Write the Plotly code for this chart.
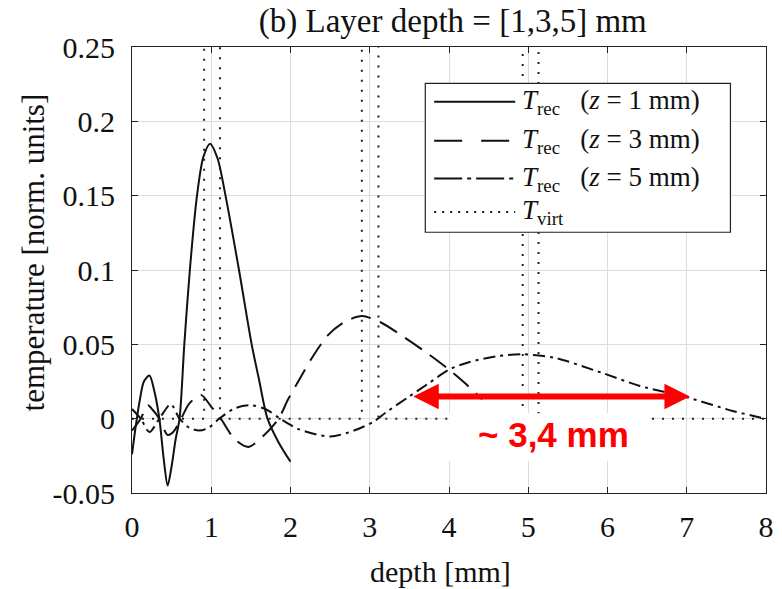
import plotly.graph_objects as go

# ---------------- data ----------------
depth_ticks = [0, 1, 2, 3, 4, 5, 6, 7, 8]
temp_ticks = [-0.05, 0, 0.05, 0.1, 0.15, 0.2, 0.25]
temp_tick_labels = ["-0.05", "0", "0.05", "0.1", "0.15", "0.2", "0.25"]

# T_rec (z = 1 mm)
rec1_x = [0, 0.05, 0.1, 0.15, 0.22, 0.28, 0.345, 0.4, 0.45, 0.5, 0.55, 0.6, 0.66, 0.73,
          0.82, 0.9, 0.985, 1.08, 1.18, 1.35, 1.51, 1.6, 1.71, 1.85, 2.0]
rec1_y = [-0.024, -0.004, 0.013, 0.025, 0.029, 0.019, 0.0, -0.027, -0.045, -0.032, -0.014,
          0.0, 0.05, 0.1, 0.15, 0.176, 0.185, 0.175, 0.15, 0.1, 0.05, 0.027, 0.0, -0.016, -0.029]

# T_rec (z = 3 mm)
rec3_x = [0, 0.11, 0.2, 0.26, 0.345, 0.45, 0.52, 0.62, 0.72, 0.87, 1.0, 1.12, 1.3, 1.47,
          1.65, 1.85, 1.97, 2.13, 2.26, 2.47, 2.68, 2.9, 3.13, 3.4, 3.7, 4.0, 4.2, 4.42]
rec3_y = [-0.008, 0.0, 0.009, 0.006, 0.0, -0.011, -0.009, 0.0, 0.01, 0.016, 0.008, 0.0,
          -0.014, -0.019, -0.012, 0.0, 0.013, 0.028, 0.04, 0.056, 0.065, 0.069, 0.065,
          0.056, 0.045, 0.033, 0.024, 0.013]

# T_rec (z = 5 mm)
rec5_x = [0, 0.11, 0.22, 0.345, 0.49, 0.6, 0.72, 0.85, 0.97, 1.1, 1.3, 1.51, 1.7, 1.87,
          2.1, 2.5, 2.8, 3.05, 3.2, 3.5, 3.75, 4.0, 4.25, 4.6, 4.92, 5.33, 5.92, 6.41,
          7.0, 7.58, 7.91, 8.0]
rec5_y = [0.0065, 0.0, -0.009, 0.0, 0.0097, 0.0, -0.006, -0.008, -0.006, 0.0, 0.007,
          0.009, 0.006, 0.0, -0.007, -0.012, -0.008, -0.002, 0.004, 0.015, 0.024, 0.033,
          0.038, 0.042, 0.0433, 0.041, 0.031, 0.022, 0.0144, 0.0052, 0.001, 0.0]

# T_virt (layer boxes, amplitude beyond the axis range)
virt_x = [0, 0.91, 0.91, 1.11, 1.11, 2.9, 2.9, 3.11, 3.11, 4.93, 4.93, 5.13, 5.13, 8]
virt_y = [0, 0, 1, 1, 0, 0, 1, 1, 0, 0, 1, 1, 0, 0]

# annotation: width of the z = 5 mm response
arrow_start_x, arrow_end_x, arrow_y = 3.53, 7.04, 0.0149
width_label = "~ 3,4 mm"

SP = "&nbsp;"
legend_labels = [
    f"<i>T</i><sub>rec</sub>{SP*3}(<i>z</i>{SP}={SP}1{SP}mm)",
    f"<i>T</i><sub>rec</sub>{SP*3}(<i>z</i>{SP}={SP}3{SP}mm)",
    f"<i>T</i><sub>rec</sub>{SP*3}(<i>z</i>{SP}={SP}5{SP}mm)",
    "<i>T</i><sub>virt</sub>",
]

# ---------------- styles ----------------
SERIF = "Liberation Serif, Times New Roman, serif"
BLACK = "#111111"
plot_dashes = ["solid", "20px,10px", "12px,5px,3px,5px", "2px,8px"]
legend_dashes = ["solid", "28px,19px", "28px,5px,4px,5px", "2px,6px"]

fig = go.Figure()
fig.add_trace(go.Scatter(x=virt_x, y=virt_y, mode="lines", name="T_virt",
                         line=dict(color="#222222", width=2, dash=plot_dashes[3]),
                         showlegend=False, hoverinfo="skip"))
for xs, ys, dash, name in [(rec5_x, rec5_y, plot_dashes[2], "z=5"),
                           (rec3_x, rec3_y, plot_dashes[1], "z=3"),
                           (rec1_x, rec1_y, plot_dashes[0], "z=1")]:
    fig.add_trace(go.Scatter(x=xs, y=ys, mode="lines", name=name,
                             line=dict(color=BLACK, width=2, dash=dash, shape="spline",
                                       smoothing=0.8),
                             showlegend=False))

shapes = []
annotations = []

# white box behind the red label
shapes.append(dict(type="rect", xref="x", yref="y", x0=4.0, x1=6.54, y0=-0.0285, y1=0.0037,
                   fillcolor="white", line=dict(width=0), layer="above"))
annotations.append(dict(x=(4.0 + 6.54) / 2 + 0.05, y=-0.0105, xref="x", yref="y",
                        text=f"<b>{width_label}</b>",
                        showarrow=False, font=dict(family="Liberation Sans, Arial, sans-serif",
                                                   size=35, color="#ff0000"),
                        xanchor="center", yanchor="middle"))
# double headed arrow
annotations.append(dict(x=arrow_end_x, y=arrow_y, ax=arrow_start_x, ay=arrow_y,
                        xref="x", yref="y", axref="x", ayref="y", text="",
                        showarrow=True, arrowside="end+start", arrowhead=2, startarrowhead=2,
                        arrowsize=0.85, startarrowsize=0.85, arrowwidth=6,
                        arrowcolor="#ff0000", standoff=0, startstandoff=0))

# manual legend (paper coordinates)
shapes.append(dict(type="rect", xref="paper", yref="paper", x0=0.4626, x1=0.9439,
                   y0=0.5846, y1=0.9183, fillcolor="white",
                   line=dict(color="#222222", width=1.2), layer="above"))
row_px = [101.7, 140.7, 178.5, 212.0]
row_y = [(493 - p) / 446 for p in row_px]
for ry, dash, lab in zip(row_y, legend_dashes, legend_labels):
    shapes.append(dict(type="line", xref="paper", yref="paper", x0=0.4766, x1=0.6044,
                       y0=ry, y1=ry, line=dict(color=BLACK, width=2, dash=dash),
                       layer="above"))
    annotations.append(dict(x=0.6121, y=ry, xref="paper", yref="paper", text=lab,
                            showarrow=False, xanchor="left", yanchor="middle",
                            font=dict(family=SERIF, size=27, color=BLACK)))

# axis titles
annotations.append(dict(x=0.487, y=-0.177, xref="paper", yref="paper", text="depth [mm]",
                        showarrow=False, font=dict(family=SERIF, size=30, color=BLACK),
                        xanchor="center", yanchor="middle"))
annotations.append(dict(x=-0.1558, y=0.54, xref="paper", yref="paper",
                        text="temperature [norm. units]", textangle=-90,
                        showarrow=False, font=dict(family=SERIF, size=31, color=BLACK),
                        xanchor="center", yanchor="middle"))

axis_common = dict(showline=True, linecolor="#222222", linewidth=1.2, mirror="ticks",
                   ticks="inside", ticklen=6, tickcolor="#222222", showgrid=True,
                   gridcolor="#dddddd", gridwidth=1, zeroline=False,
                   tickfont=dict(family=SERIF, size=30, color=BLACK))

fig.update_layout(
    width=782, height=589, autosize=False,
    margin=dict(l=132, r=8, t=47, b=96),
    plot_bgcolor="white", paper_bgcolor="white",
    title=dict(text="(b) Layer depth = [1,3,5] mm", x=0.579, xanchor="center",
               y=1 - 20 / 589, yref="container", yanchor="middle",
               font=dict(family=SERIF, size=33, color=BLACK)),
    xaxis=dict(range=[0, 8], tickvals=depth_ticks, ticktext=[str(v) for v in depth_ticks],
               ticklabelstandoff=7, **axis_common),
    yaxis=dict(range=[-0.05, 0.25], tickvals=temp_ticks, ticktext=temp_tick_labels,
               ticklabelstandoff=10, **axis_common),
    shapes=shapes, annotations=annotations, showlegend=False,
)

fig.write_html("out.html")
